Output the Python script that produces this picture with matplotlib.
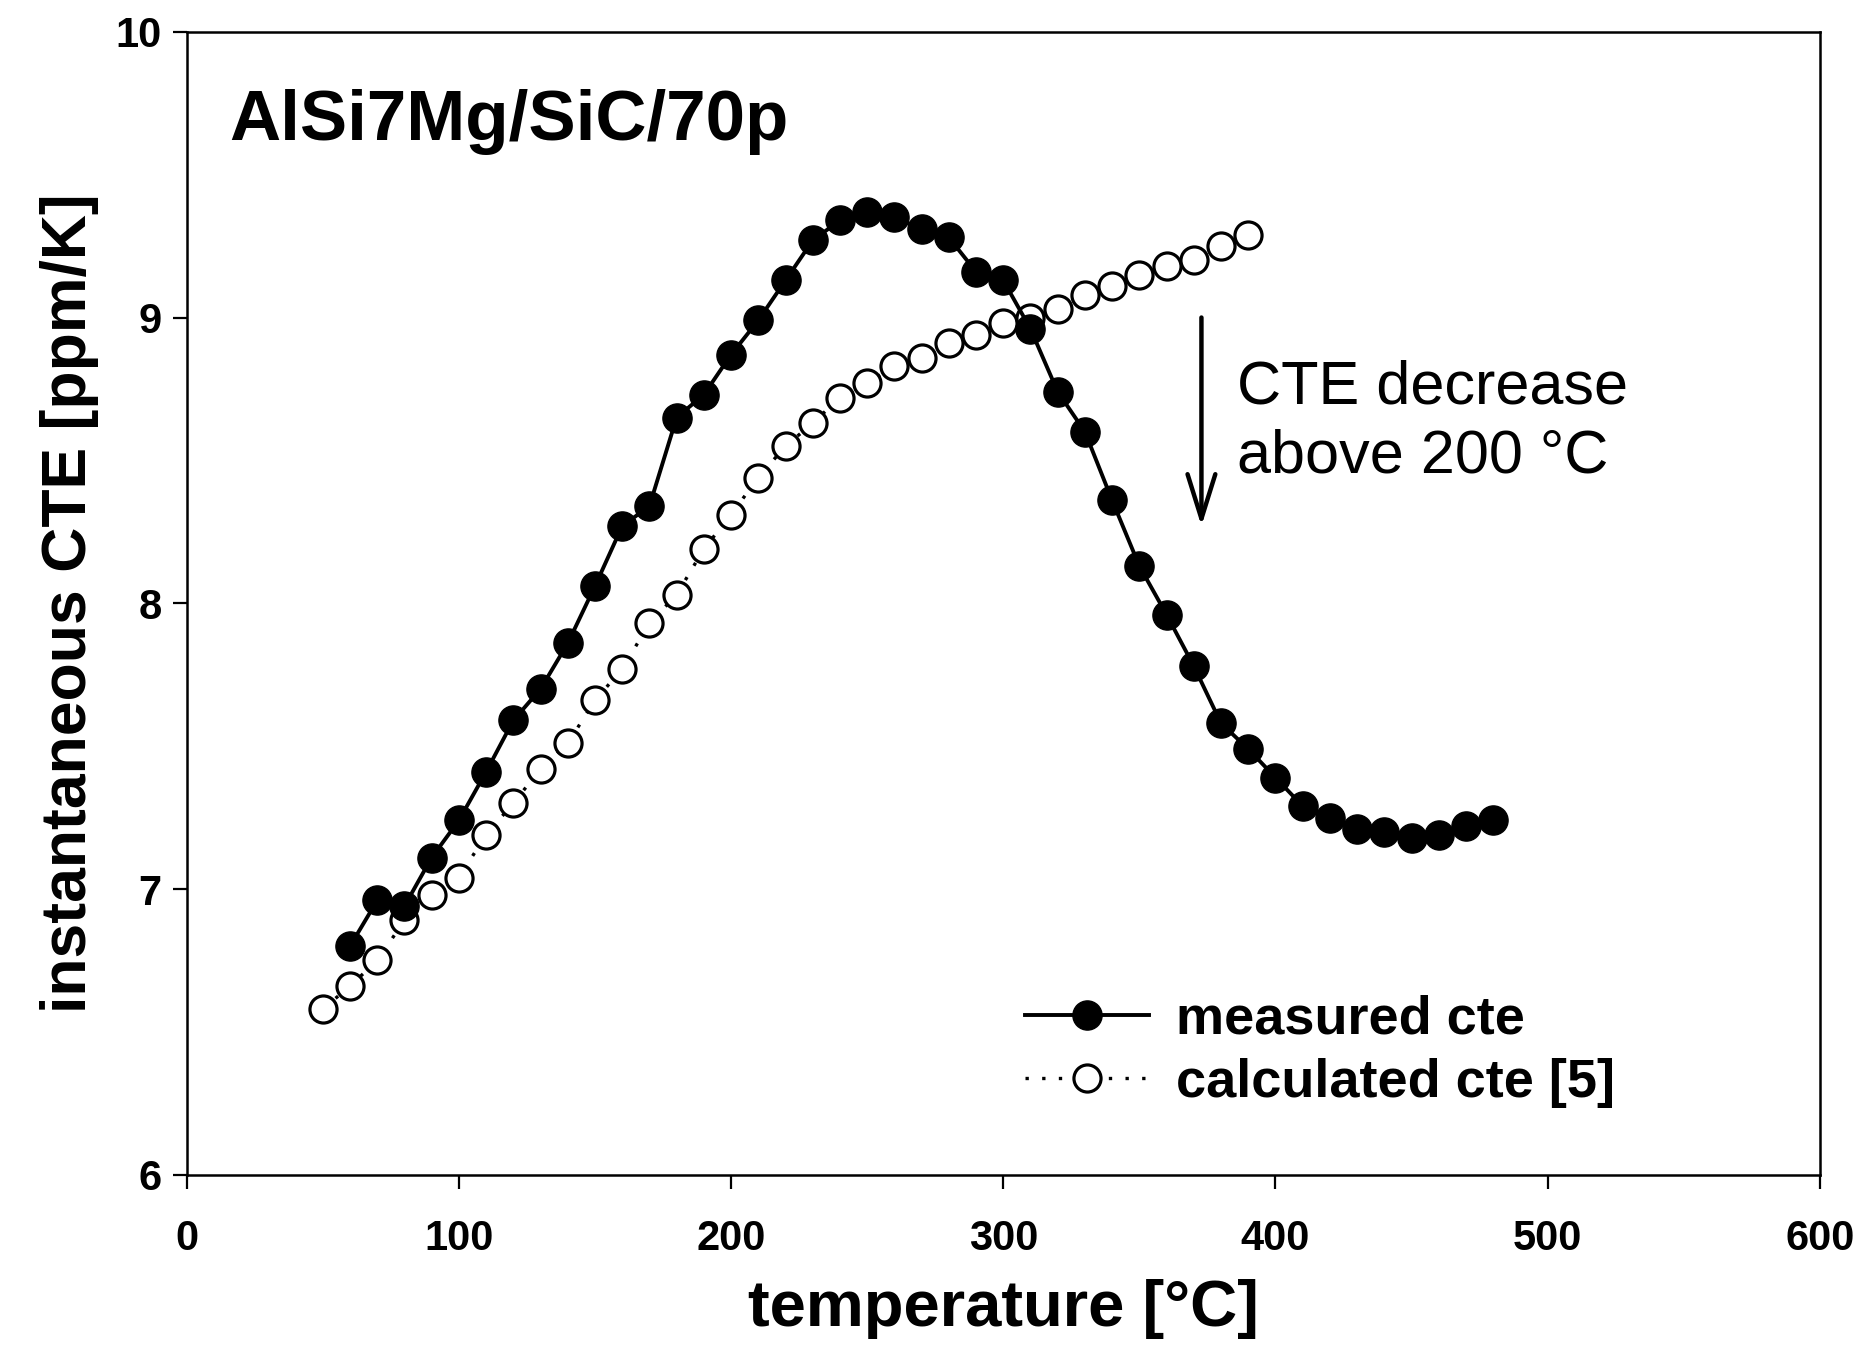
import matplotlib
matplotlib.use("Agg")
import matplotlib.pyplot as plt

# measured instantaneous CTE (ppm/K) vs temperature (deg C)
meas_t = [60, 70, 80, 90, 100, 110, 120, 130, 140, 150, 160, 170, 180, 190,
          200, 210, 220, 230, 240, 250, 260, 270, 280, 290, 300, 310, 320,
          330, 340, 350, 360, 370, 380, 390, 400, 410, 420, 430, 440, 450,
          460, 470, 480]
meas_cte = [6.80, 6.96, 6.94, 7.11, 7.24, 7.41, 7.59, 7.70, 7.86, 8.06, 8.27,
            8.34, 8.65, 8.73, 8.87, 8.99, 9.13, 9.27, 9.34, 9.37, 9.35, 9.31,
            9.28, 9.16, 9.13, 8.96, 8.74, 8.60, 8.36, 8.13, 7.96, 7.78, 7.58,
            7.49, 7.39, 7.29, 7.25, 7.21, 7.20, 7.18, 7.19, 7.22, 7.24]

# calculated cte [5]
calc_t = [50, 60, 70, 80, 90, 100, 110, 120, 130, 140, 150, 160, 170, 180,
          190, 200, 210, 220, 230, 240, 250, 260, 270, 280, 290, 300, 310,
          320, 330, 340, 350, 360, 370, 380, 390]
calc_cte = [6.58, 6.66, 6.75, 6.89, 6.98, 7.04, 7.19, 7.30, 7.42, 7.51, 7.66,
            7.77, 7.93, 8.03, 8.19, 8.31, 8.44, 8.55, 8.63, 8.72, 8.77, 8.83,
            8.86, 8.91, 8.94, 8.98, 9.00, 9.03, 9.08, 9.11, 9.15, 9.18, 9.20,
            9.25, 9.29]

x_ticks = [0, 100, 200, 300, 400, 500, 600]
y_ticks = [6, 7, 8, 9, 10]

plt.rcParams["font.family"] = ["Liberation Sans", "DejaVu Sans"]

fig = plt.figure(figsize=(18.65, 13.57), dpi=100)
ax = fig.add_axes([0.1001, 0.1343, 0.8757, 0.8423])

ax.plot(meas_t, meas_cte, color="black", lw=2.8, marker="o", ms=21,
        mfc="black", mec="black", label="measured cte", zorder=3)
ax.plot(calc_t, calc_cte, color="black", lw=2.4, ls=(0, (1, 4)), marker="o",
        ms=19.5, mfc="white", mec="black", mew=2.3, label="calculated cte [5]",
        zorder=2)

ax.set_xlim(0, 600)
ax.set_ylim(6, 10)
ax.set_xticks(x_ticks)
ax.set_yticks(y_ticks)
for s in ax.spines.values():
    s.set_linewidth(1.8)
ax.tick_params(direction="out", length=10, width=1.6, labelsize=30)
ax.tick_params(axis="x", pad=22)
ax.tick_params(axis="y", pad=8)
for lab in ax.get_xticklabels() + ax.get_yticklabels():
    lab.set_fontweight("bold")

ax.set_xlabel("temperature [\u00b0C]", fontsize=47, fontweight="bold", labelpad=14)
ax.set_ylabel("instantaneous CTE [ppm/K]", fontsize=45, fontweight="bold", labelpad=12)

ax.text(15.7, 9.62, "AlSi7Mg/SiC/70p", fontsize=51, fontweight="bold",
        va="baseline", ha="left")
ax.text(386, 8.70, "CTE decrease", fontsize=44, va="baseline", ha="left")
ax.text(386, 8.456, "above 200 \u00b0C", fontsize=44, va="baseline", ha="left")
ax.annotate("", xy=(372.8, 8.27), xytext=(372.8, 9.0),
            arrowprops=dict(arrowstyle="->,head_length=3.2,head_width=1.0",
                            lw=3.2, color="black", shrinkA=0, shrinkB=0))

leg = ax.legend(loc="center left", bbox_to_anchor=(0.513, 0.108),
                frameon=False, prop={"weight": "bold", "size": 39},
                handlelength=2.3, handletextpad=0.5, labelspacing=0.25,
                borderpad=0, borderaxespad=0)

fig.savefig("out.png", dpi=100)
